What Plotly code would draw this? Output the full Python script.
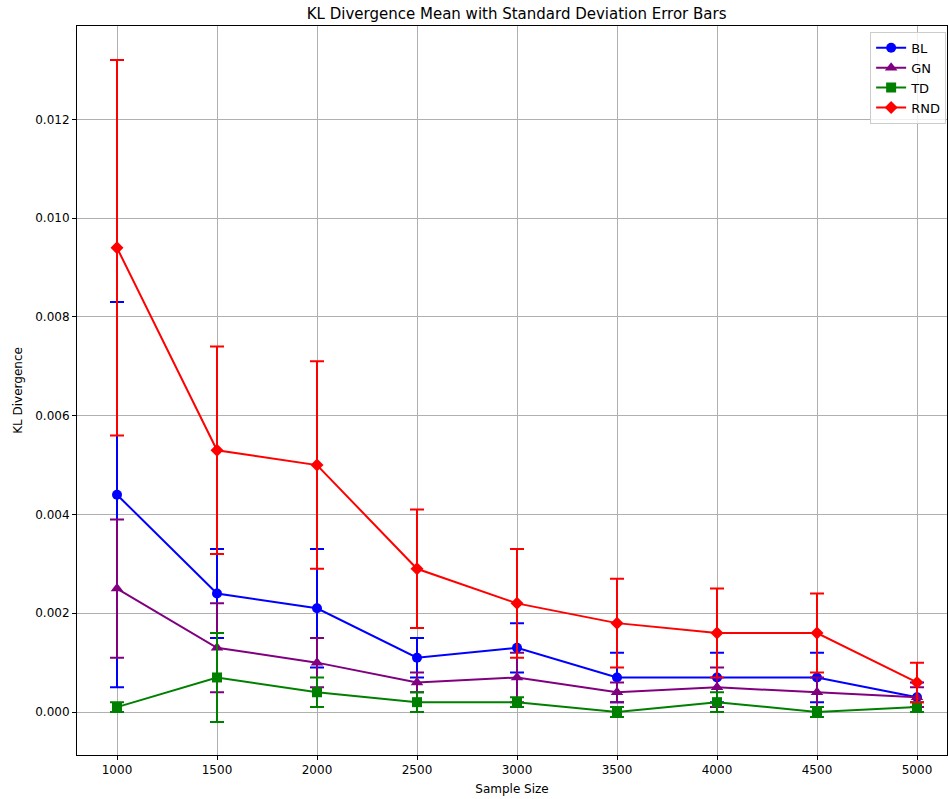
import plotly.graph_objects as go

# Sample sizes on the x axis
sample_sizes = [1000, 1500, 2000, 2500, 3000, 3500, 4000, 4500, 5000]

# Mean KL divergence per method
bl_mean = [0.0044, 0.0024, 0.0021, 0.0011, 0.0013, 0.0007, 0.0007, 0.0007, 0.0003]
gn_mean = [0.0025, 0.0013, 0.0010, 0.0006, 0.0007, 0.0004, 0.0005, 0.0004, 0.0003]
td_mean = [0.0001, 0.0007, 0.0004, 0.0002, 0.0002, 0.0000, 0.0002, 0.0000, 0.0001]
rnd_mean = [0.0094, 0.0053, 0.0050, 0.0029, 0.0022, 0.0018, 0.0016, 0.0016, 0.0006]

# Standard deviations per method
bl_std = [0.0039, 0.0009, 0.0012, 0.0004, 0.0005, 0.0005, 0.0005, 0.0005, 0.0003]
gn_std = [0.0014, 0.0009, 0.0005, 0.0002, 0.0005, 0.0002, 0.0004, 0.0003, 0.0002]
td_std = [0.0001, 0.0009, 0.0003, 0.0002, 0.0001, 0.0001, 0.0002, 0.0001, 0.0001]
rnd_std = [0.0038, 0.0021, 0.0021, 0.0012, 0.0011, 0.0009, 0.0009, 0.0008, 0.0004]

series = [
    ("BL", bl_mean, bl_std, "blue", "circle", 10),
    ("GN", gn_mean, gn_std, "purple", "triangle-up", 11),
    ("TD", td_mean, td_std, "green", "square", 10),
    ("RND", rnd_mean, rnd_std, "red", "diamond", 10),
]

fig = go.Figure()
for name, mean, std, color, symbol, msize in series:
    fig.add_trace(go.Scatter(
        x=sample_sizes,
        y=mean,
        name=name,
        mode="lines+markers",
        line=dict(color=color, width=2),
        marker=dict(color=color, symbol=symbol, size=msize),
        error_y=dict(type="data", array=std, visible=True,
                     color=color, thickness=2, width=7),
    ))

axis_common = dict(
    showline=True, linecolor="black", linewidth=1, mirror=True,
    showgrid=True, gridcolor="#b0b0b0", gridwidth=1,
    ticks="outside", ticklen=4, tickcolor="black",
    zeroline=False,
    tickfont=dict(family="DejaVu Sans", size=12, color="black"),
)

fig.update_layout(
    width=948, height=799,
    margin=dict(l=77, r=1, t=26, b=44),
    paper_bgcolor="white", plot_bgcolor="white",
    font=dict(family="DejaVu Sans", size=12, color="black"),
    title=dict(text="KL Divergence Mean with Standard Deviation Error Bars",
               x=0.545, xanchor="center", y=0.983, yanchor="middle",
               font=dict(family="DejaVu Sans", size=15, color="black")),
    xaxis=dict(axis_common, range=[800, 5150],
               tickvals=sample_sizes,
               title=dict(text="Sample Size", standoff=8,
                          font=dict(family="DejaVu Sans", size=12))),
    yaxis=dict(axis_common, range=[-0.00087, 0.01389],
               tickvals=[0, 0.002, 0.004, 0.006, 0.008, 0.010, 0.012],
               tickformat=".3f",
               title=dict(text="KL Divergence", standoff=10,
                          font=dict(family="DejaVu Sans", size=12))),
    legend=dict(x=0.999, y=0.992, xanchor="right", yanchor="top",
                bgcolor="rgba(255,255,255,0.8)", bordercolor="#cccccc",
                borderwidth=1, font=dict(family="DejaVu Sans", size=13),
                tracegroupgap=0),
    showlegend=True,
)

fig.write_html("out.html")
